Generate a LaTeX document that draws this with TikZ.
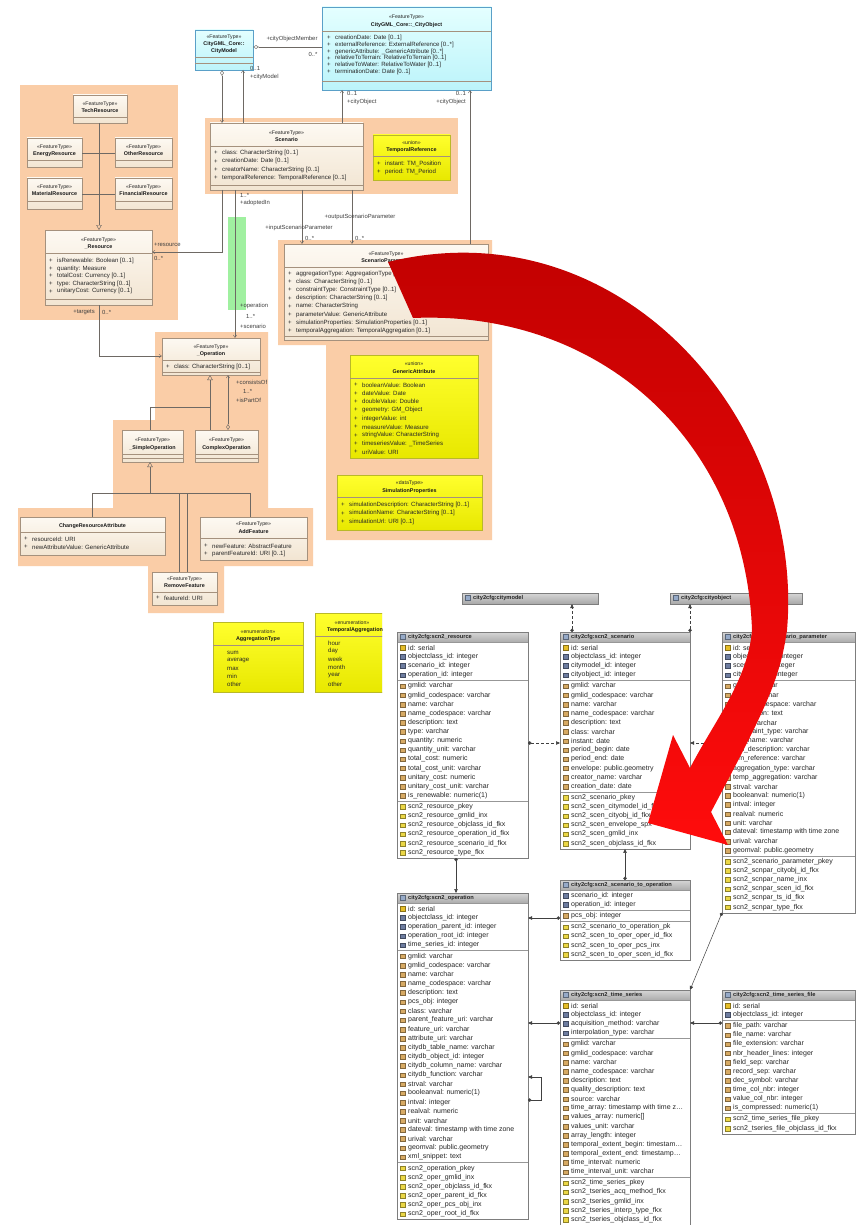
\documentclass[tikz,border=0pt]{standalone}
\usepackage{fontspec}
\setmainfont{Liberation Sans}
\usetikzlibrary{arrows.meta,shadows}

\definecolor{peach}{RGB}{250,205,167}
\definecolor{creamtop}{RGB}{253,249,242}
\definecolor{creambot}{RGB}{242,229,210}
\definecolor{umlborder}{RGB}{165,145,125}
\definecolor{umlline}{RGB}{110,105,100}
\definecolor{cyantop}{RGB}{228,255,255}
\definecolor{cyanbot}{RGB}{188,244,250}
\definecolor{cyanborder}{RGB}{90,160,200}
\definecolor{yeltop}{RGB}{255,255,45}
\definecolor{yelbot}{RGB}{232,232,0}
\definecolor{yelborder}{RGB}{185,185,40}
\definecolor{greenfill}{RGB}{160,240,160}
\definecolor{dbheadtop}{RGB}{214,214,214}
\definecolor{dbheadbot}{RGB}{172,172,172}
\definecolor{dbborder}{RGB}{125,125,125}
\definecolor{tabicon}{RGB}{150,170,200}
\definecolor{pkc}{RGB}{230,190,40}
\definecolor{fkc}{RGB}{110,125,160}
\definecolor{colc}{RGB}{215,170,100}
\definecolor{idxc}{RGB}{235,215,70}
\definecolor{arrowtop}{RGB}{190,0,0}
\definecolor{arrowbot}{RGB}{255,12,12}

\tikzset{
  fkdot/.tip={Circle[length=3.4pt]},
  reftip/.tip={Triangle[length=4pt,width=3.4pt]},
  navtip/.tip={Straight Barb[length=2.6pt,width=3.4pt]},
  aggtip/.tip={Diamond[open,length=6pt,width=3.6pt]},
  gentip/.tip={Triangle[open,length=5pt,width=5.5pt]}}

\newcount\dbcount
\def\gy{0}
\newcommand\rowh{9.13}

% attribute rows of a UML class: name prefix, x, first y, step, list
\newcommand\umlattrs[5]{%
  \foreach \attr [count=\k from 0] in {#5}{%
    \node[umltxt, anchor=west] (#1-p\k) at (#2, #3+\k*#4) {+};
    \node[umltxt, anchor=west] (#1-a\k) at (#2+8, #3+\k*#4) {\attr};
  }}
% literals of an enumeration
\newcommand\umlitems[5]{%
  \foreach \attr [count=\k from 0] in {#5}{%
    \node[umltxt, anchor=west] (#1-i\k) at (#2, #3+\k*#4) {\attr};
  }}
% compartment separator across a class box
\newcommand\usep[2]{\draw[umlsep] (#1.west |- 0,#2) -- (#1.east |- 0,#2);}

% rows of one table section
\newcommand\dbrows[4]{%
  \foreach \rowtxt in {#3}{%
    \global\advance\dbcount by 1
    \node[dbtxt] (#1-r\the\dbcount) at (#2+11, \gy+\rowh/2) {\rowtxt};
    \path[#4] (#2+3.2, \gy+2.3) rectangle ++(4.6,4.6);
    \pgfmathsetmacro\nexty{\gy+\rowh}\global\let\gy\nexty
  }}
% table title bar
\newcommand\dbhead[5]{%
  \path[top color=dbheadtop, bottom color=dbheadbot] (#2,#3) rectangle (#2+#4,#3+10);
  \path[fill=tabicon, draw=tabicon!60!black, line width=0.2pt] (#2+3,#3+2.5) rectangle ++(5,5);
  \node[dbhd] (#1-title) at (#2+11,#3+5.2) {#5};}
% collapsed table
\newcommand\dbstub[5]{\dbhead{#1}{#2}{#3}{#4}{#5}%
  \node[dbframe, minimum width=#4pt, minimum height=11pt] (#1) at (#2,#3) {};}
% full table: name, x, y, width, title, primary keys, foreign keys, columns, indexes
\newcommand\dbtable[9]{%
  \dbhead{#1}{#2}{#3}{#4}{#5}%
  \global\dbcount=0
  \pgfmathsetmacro\nexty{#3+11}\global\let\gy\nexty
  \def\dbtmp{#6}%
  \ifx\dbtmp\empty\else\dbrows{#1}{#2}{#6}{pkicon}\fi
  \dbrows{#1}{#2}{#7}{fkicon}%
  \draw[dbsep] (#2,\gy+1) -- (#2+#4,\gy+1);
  \pgfmathsetmacro\nexty{\gy+2}\global\let\gy\nexty
  \dbrows{#1}{#2}{#8}{colicon}%
  \draw[dbsep] (#2,\gy+1) -- (#2+#4,\gy+1);
  \pgfmathsetmacro\nexty{\gy+2}\global\let\gy\nexty
  \dbrows{#1}{#2}{#9}{idxicon}%
  \draw[dbsep] (#2,#3+10) -- (#2+#4,#3+10);
  \pgfmathsetmacro\tabh{\gy+1-#3}%
  \node[dbframe, minimum width=#4pt, minimum height=\tabh pt] (#1) at (#2,#3) {};}

\begin{document}
\catcode`\_=12
\begin{tikzpicture}[x=1pt,y=-1pt,
  ubox/.style={anchor=north west, inner sep=0pt, outer sep=0pt, line width=0.4pt,
    drop shadow={opacity=0.22, shadow xshift=1.2pt, shadow yshift=-1.2pt}},
  umlbox/.style={ubox, draw=umlborder, top color=creamtop, bottom color=creambot},
  cyanbox/.style={ubox, draw=cyanborder, top color=cyantop, bottom color=cyanbot},
  yelbox/.style={ubox, draw=yelborder, top color=yeltop, bottom color=yelbot},
  umlsep/.style={draw=umlborder, line width=0.3pt},
  umltxt/.style={font=\fontsize{6.1}{6.5}\selectfont, inner sep=0pt, text=black!85},
  umlst/.style={font=\fontsize{5.2}{5.6}\selectfont, inner sep=0pt, text=black!85},
  umlnm/.style={font=\fontsize{5.4}{5.8}\selectfont\bfseries, inner sep=0pt, text=black!90},
  lbl/.style={font=\fontsize{5.9}{6.3}\selectfont, inner sep=0pt, text=black!75},
  conn/.style={draw=umlline, line width=0.45pt},
  dbtxt/.style={font=\fontsize{7}{7.5}\selectfont, inner sep=0pt, anchor=west, text=black!85},
  dbhd/.style={font=\fontsize{5.7}{6}\selectfont\bfseries, inner sep=0pt, anchor=west, text=black!85},
  dbsep/.style={draw=dbborder!80, line width=0.35pt},
  dbframe/.style={draw=dbborder, line width=0.5pt, anchor=north west, inner sep=0pt, outer sep=0pt},
  pkicon/.style={fill=pkc, draw=pkc!60!black, line width=0.2pt},
  fkicon/.style={fill=fkc, draw=fkc!60!black, line width=0.2pt},
  colicon/.style={fill=colc, draw=colc!60!black, line width=0.2pt},
  idxicon/.style={fill=idxc, draw=idxc!60!black, line width=0.2pt},
  dbconn/.style={draw=black!75, line width=0.5pt}]

\useasboundingbox (0,0) rectangle (856,1225);
\fill[white] (0,0) rectangle (856,1225);

% ---------- package backgrounds
\fill[peach] (20,85) rectangle (178,320);
\fill[peach] (205,118) rectangle (458,194);
\fill[peach] (278,240) -- (492,240) -- (492,540) -- (326,540) -- (326,345) -- (278,345) -- cycle;
\fill[peach] (155,332) -- (268,332) -- (268,508) -- (313,508) -- (313,566) -- (224,566)
  -- (224,613) -- (148,613) -- (148,566) -- (18,566) -- (18,508) -- (113,508) -- (113,420)
  -- (155,420) -- cycle;
\fill[greenfill] (228,217) rectangle (246,310);

% ---------- CityGML core classes
\node[cyanbox, minimum width=58pt, minimum height=40pt] (cmodel) at (195,30) {};
\node[umlst] (cmodel-s) at (224,37) {«FeatureType»};
\node[umlnm] (cmodel-n1) at (224,44) {CityGML_Core::};
\node[umlnm] (cmodel-n2) at (224,51) {CityModel};
\usep{cmodel}{57}\usep{cmodel}{63}

\node[cyanbox, minimum width=169pt, minimum height=83pt] (cobj) at (322,7) {};
\node[umlst] (cobj-s) at (406.5,17) {«FeatureType»};
\node[umlnm] (cobj-n) at (406.5,25) {CityGML_Core::_CityObject};
\usep{cobj}{31}
\umlattrs{cobj}{327}{38}{6.8}{creationDate: Date [0..1], externalReference: ExternalReference [0..*], genericAttribute: _GenericAttribute [0..*], relativeToTerrain: RelativeToTerrain [0..1], relativeToWater: RelativeToWater [0..1], terminationDate: Date [0..1]}
\usep{cobj}{81}

% ---------- scenario
\node[umlbox, minimum width=153pt, minimum height=67pt] (scen) at (210,123) {};
\node[umlst] (scen-s) at (286.5,133) {«FeatureType»};
\node[umlnm] (scen-n) at (286.5,140) {Scenario};
\usep{scen}{146}
\umlattrs{scen}{214}{153}{8.3}{class: CharacterString [0..1], creationDate: Date [0..1], creatorName: CharacterString [0..1], temporalReference: TemporalReference [0..1]}
\usep{scen}{185}

\node[yelbox, minimum width=77pt, minimum height=45pt] (tref) at (373,135) {};
\node[umlst] (tref-s) at (411.5,143) {«union»};
\node[umlnm] (tref-n) at (411.5,150) {TemporalReference};
\usep{tref}{156}
\umlattrs{tref}{377}{164}{8}{instant: TM_Position, period: TM_Period}

% ---------- resources
\node[umlbox, minimum width=54pt, minimum height=28pt] (techr) at (73,95) {};
\node[umlst] (techr-s) at (100,104) {«FeatureType»};
\node[umlnm] (techr-n) at (100,111) {TechResource};
\usep{techr}{117}
\node[umlbox, minimum width=55pt, minimum height=29pt] (energy) at (27,138) {};
\node[umlst] (energy-s) at (54.5,147) {«FeatureType»};
\node[umlnm] (energy-n) at (54.5,154) {EnergyResource};
\usep{energy}{160}
\node[umlbox, minimum width=57pt, minimum height=29pt] (other) at (115,138) {};
\node[umlst] (other-s) at (143.5,147) {«FeatureType»};
\node[umlnm] (other-n) at (143.5,154) {OtherResource};
\usep{other}{160}
\node[umlbox, minimum width=55pt, minimum height=31pt] (mater) at (27,178) {};
\node[umlst] (mater-s) at (54.5,187) {«FeatureType»};
\node[umlnm] (mater-n) at (54.5,194) {MaterialResource};
\usep{mater}{201}
\node[umlbox, minimum width=57pt, minimum height=31pt] (finan) at (115,178) {};
\node[umlst] (finan-s) at (143.5,187) {«FeatureType»};
\node[umlnm] (finan-n) at (143.5,194) {FinancialResource};
\usep{finan}{201}

\node[umlbox, minimum width=107pt, minimum height=75pt] (resr) at (45,230) {};
\node[umlst] (resr-s) at (98.5,240) {«FeatureType»};
\node[umlnm] (resr-n) at (98.5,247) {_Resource};
\usep{resr}{253}
\umlattrs{resr}{49}{261}{7.6}{isRenewable: Boolean [0..1], quantity: Measure, totalCost: Currency [0..1], type: CharacterString [0..1], unitaryCost: Currency [0..1]}
\usep{resr}{299}

% ---------- scenario parameters
\node[umlbox, minimum width=204pt, minimum height=96pt] (spar) at (284,244) {};
\node[umlst] (spar-s) at (386,254) {«FeatureType»};
\node[umlnm] (spar-n) at (386,261) {ScenarioParameter};
\usep{spar}{267}
\umlattrs{spar}{288}{274}{8.1}{aggregationType: AggregationType [0..1], class: CharacterString [0..1], constraintType: ConstraintType [0..1], description: CharacterString [0..1], name: CharacterString, parameterValue: GenericAttribute, simulationProperties: SimulationProperties [0..1], temporalAggregation: TemporalAggregation [0..1]}
\usep{spar}{336}

\node[yelbox, minimum width=128pt, minimum height=103pt] (gattr) at (350,355) {};
\node[umlst] (gattr-s) at (414,364) {«union»};
\node[umlnm] (gattr-n) at (414,372) {GenericAttribute};
\usep{gattr}{378}
\umlattrs{gattr}{354}{385}{8.4}{booleanValue: Boolean, dateValue: Date, doubleValue: Double, geometry: GM_Object, integerValue: int, measureValue: Measure, stringValue: CharacterString, timeseriesValue: _TimeSeries, uriValue: URI}

\node[yelbox, minimum width=145pt, minimum height=55pt] (simp) at (337,475) {};
\node[umlst] (simp-s) at (409.5,483) {«dataType»};
\node[umlnm] (simp-n) at (409.5,491) {SimulationProperties};
\usep{simp}{497}
\umlattrs{simp}{341}{505}{8.3}{simulationDescription: CharacterString [0..1], simulationName: CharacterString [0..1], simulationUrl: URI [0..1]}

% ---------- operations
\node[umlbox, minimum width=98pt, minimum height=37pt] (oper) at (162,338) {};
\node[umlst] (oper-s) at (211,347) {«FeatureType»};
\node[umlnm] (oper-n) at (211,354) {_Operation};
\usep{oper}{360}
\umlattrs{oper}{166}{367}{8}{class: CharacterString [0..1]}
\usep{oper}{372}

\node[umlbox, minimum width=61pt, minimum height=32pt] (simop) at (122,430) {};
\node[umlst] (simop-s) at (152.5,440) {«FeatureType»};
\node[umlnm] (simop-n) at (152.5,448) {_SimpleOperation};
\usep{simop}{454}\usep{simop}{458}
\node[umlbox, minimum width=63pt, minimum height=32pt] (cplxop) at (195,430) {};
\node[umlst] (cplxop-s) at (226.5,440) {«FeatureType»};
\node[umlnm] (cplxop-n) at (226.5,448) {ComplexOperation};
\usep{cplxop}{454}\usep{cplxop}{458}

\node[umlbox, minimum width=145pt, minimum height=38pt] (chgres) at (20,517) {};
\node[umlnm] (chgres-n) at (92.5,526) {ChangeResourceAttribute};
\usep{chgres}{532}
\umlattrs{chgres}{24}{539}{8}{resourceId: URI, newAttributeValue: GenericAttribute}

\node[umlbox, minimum width=107pt, minimum height=43pt] (addf) at (200,517) {};
\node[umlst] (addf-s) at (253.5,524) {«FeatureType»};
\node[umlnm] (addf-n) at (253.5,532) {AddFeature};
\usep{addf}{538}
\umlattrs{addf}{204}{546}{8}{newFeature: AbstractFeature, parentFeatureId: URI [0..1]}

\node[umlbox, minimum width=65pt, minimum height=33pt] (remf) at (152,572) {};
\node[umlst] (remf-s) at (184.5,579) {«FeatureType»};
\node[umlnm] (remf-n) at (184.5,586) {RemoveFeature};
\usep{remf}{592}
\umlattrs{remf}{156}{598}{8}{featureId: URI}

% ---------- enumerations
\node[yelbox, minimum width=90pt, minimum height=70pt] (aggt) at (213,622) {};
\node[umlst] (aggt-s) at (258,632) {«enumeration»};
\node[umlnm] (aggt-n) at (258,639) {AggregationType};
\usep{aggt}{645}
\umlitems{aggt}{227}{653}{7.8}{sum, average, max, min, other}

\begin{scope}
\clip (300,600) rectangle (382,700);
\node[yelbox, minimum width=80pt, minimum height=79pt] (tagg) at (315,613) {};
\node[umlst] (tagg-s) at (352,623) {«enumeration»};
\node[umlnm] (tagg-n) at (355,630) {TemporalAggregation};
\usep{tagg}{636}
\umlitems{tagg}{328}{643}{8.2}{hour, day, week, month, year, other}
\end{scope}

% ---------- UML associations and generalisations
\draw[conn, {aggtip}-] (cmodel.east |- 0,47) -- (cobj.west |- 0,47);
\node[lbl] (l-com) at (292,39) {+cityObjectMember};
\node[lbl] (l-com-m) at (313,54) {0..*};

\draw[conn, {aggtip}-{navtip}] (222,0 |- cmodel.south) -- (222,0 |- scen.north);
\draw[conn, {navtip}-] (243,0 |- cmodel.south) -- (243,0 |- scen.north);
\node[lbl, anchor=west] (l-cm-m) at (250,68) {0..1};
\node[lbl, anchor=west] (l-cm) at (250,77) {+cityModel};

\draw[conn, {navtip}-] (342,0 |- cobj.south) -- (342,0 |- scen.north);
\node[lbl, anchor=west] (l-co1-m) at (347,93) {0..1};
\node[lbl, anchor=west] (l-co1) at (347,102) {+cityObject};
\draw[conn, {navtip}-] (470,0 |- cobj.south) -- (470,0 |- spar.north);
\node[lbl, anchor=east] (l-co2-m) at (466,93) {0..1};
\node[lbl, anchor=east] (l-co2) at (466,102) {+cityObject};

\draw[conn, -{navtip}] (302,0 |- scen.south) -- (302,0 |- spar.north);
\node[lbl] (l-in) at (299,228) {+inputScenarioParameter};
\node[lbl, anchor=west] (l-in-m) at (305,238) {0..*};
\draw[conn, -{navtip}] (352,0 |- scen.south) -- (352,0 |- spar.north);
\node[lbl] (l-out) at (360,217) {+outputScenarioParameter};
\node[lbl, anchor=west] (l-out-m) at (355,238) {0..*};

\draw[conn, -{navtip}] (222,0 |- scen.south) |- (resr.east |- 0,252);
\node[lbl, anchor=west] (l-res) at (154,245) {+resource};
\node[lbl, anchor=west] (l-res-m) at (154,258) {0..*};

\draw[conn, -{navtip}] (235,0 |- scen.south) -- (235,0 |- oper.north);
\node[lbl, anchor=west] (l-sc-m) at (240,195) {1..*};
\node[lbl, anchor=west] (l-sc) at (240,203) {+adoptedIn};
\node[lbl, anchor=west] (l-op) at (240,306) {+operation};
\node[lbl, anchor=west] (l-op-m) at (246,316) {1..*};
\node[lbl, anchor=west] (l-op2) at (240,326) {+scenario};

\draw[conn, -{navtip}] (99,0 |- resr.south) |- (oper.west |- 0,356);
\node[lbl, anchor=east] (l-tg) at (95,312) {+targets};
\node[lbl, anchor=west] (l-tg-m) at (102,312) {0..*};

\draw[conn, -{gentip}] (99,0 |- techr.south) -- (99,0 |- resr.north);
\draw[conn] (energy.east |- 0,153) -- (other.west |- 0,153);
\draw[conn] (mater.east |- 0,194) -- (finan.west |- 0,194);

\coordinate (gj1) at (210,407);
\draw[conn, -{gentip}] (gj1) -- (gj1 |- oper.south);
\draw[conn] (150,0 |- simop.north) |- (gj1) -- (gj1 |- cplxop.north);
\draw[conn, {navtip}-{aggtip}] (228,0 |- oper.south) -- (228,0 |- cplxop.north);
\node[lbl, anchor=west] (l-cons) at (236,382) {+consistsOf};
\node[lbl, anchor=west] (l-cons-m) at (243,391) {1..*};
\node[lbl, anchor=west] (l-part) at (236,400) {+isPartOf};

\coordinate (gj2) at (150,493);
\draw[conn, -{gentip}] (gj2) -- (gj2 |- simop.south);
\draw[conn] (92,0 |- chgres.north) |- (250,0 |- gj2) -- (250,0 |- addf.north);
\draw[conn] (179,0 |- gj2) -- (179,0 |- remf.north);
\draw[conn] (187,0 |- gj2) -- (187,0 |- remf.north);

% ---------- database tables
\dbstub{tcm}{462}{593}{136}{city2cfg:citymodel}
\dbstub{tco}{670}{593}{132}{city2cfg:cityobject}

\dbtable{tres}{397}{632}{131}{city2cfg:scn2_resource}{id: serial}{objectclass_id: integer, scenario_id: integer, operation_id: integer}{gmlid: varchar, gmlid_codespace: varchar, name: varchar, name_codespace: varchar, description: text, type: varchar, quantity: numeric, quantity_unit: varchar, total_cost: numeric, total_cost_unit: varchar, unitary_cost: numeric, unitary_cost_unit: varchar, is_renewable: numeric(1)}{scn2_resource_pkey, scn2_resource_gmlid_inx, scn2_resource_objclass_id_fkx, scn2_resource_operation_id_fkx, scn2_resource_scenario_id_fkx, scn2_resource_type_fkx}

\dbtable{tscen}{560}{632}{130}{city2cfg:scn2_scenario}{id: serial}{objectclass_id: integer, citymodel_id: integer, cityobject_id: integer}{gmlid: varchar, gmlid_codespace: varchar, name: varchar, name_codespace: varchar, description: text, class: varchar, instant: date, period_begin: date, period_end: date, envelope: public.geometry, creator_name: varchar, creation_date: date}{scn2_scenario_pkey, scn2_scen_citymodel_id_fkx, scn2_scen_cityobj_id_fkx, scn2_scen_envelope_spx, scn2_scen_gmlid_inx, scn2_scen_objclass_id_fkx}

\dbtable{tpar}{722}{632}{133}{city2cfg:scn2_scenario_parameter}{id: serial}{objectclass_id: integer, scenario_id: integer, cityobject_id: integer}{gmlid: varchar, name: varchar, name_codespace: varchar, description: text, class: varchar, constraint_type: varchar, sim_name: varchar, sim_description: varchar, sim_reference: varchar, aggregation_type: varchar, temp_aggregation: varchar, strval: varchar, booleanval: numeric(1), intval: integer, realval: numeric, unit: varchar, dateval: timestamp with time zone, urival: varchar, geomval: public.geometry}{scn2_scenario_parameter_pkey, scn2_scnpar_cityobj_id_fkx, scn2_scnpar_name_inx, scn2_scnpar_scen_id_fkx, scn2_scnpar_ts_id_fkx, scn2_scnpar_type_fkx}

\dbtable{toper}{397}{893}{131}{city2cfg:scn2_operation}{id: serial}{objectclass_id: integer, operation_parent_id: integer, operation_root_id: integer, time_series_id: integer}{gmlid: varchar, gmlid_codespace: varchar, name: varchar, name_codespace: varchar, description: text, pcs_obj: integer, class: varchar, parent_feature_uri: varchar, feature_uri: varchar, attribute_uri: varchar, citydb_table_name: varchar, citydb_object_id: integer, citydb_column_name: varchar, citydb_function: varchar, strval: varchar, booleanval: numeric(1), intval: integer, realval: numeric, unit: varchar, dateval: timestamp with time zone, urival: varchar, geomval: public.geometry, xml_snippet: text}{scn2_operation_pkey, scn2_oper_gmlid_inx, scn2_oper_objclass_id_fkx, scn2_oper_parent_id_fkx, scn2_oper_pcs_obj_inx, scn2_oper_root_id_fkx}

\dbtable{tsto}{560}{880}{130}{city2cfg:scn2_scenario_to_operation}{}{scenario_id: integer, operation_id: integer}{pcs_obj: integer}{scn2_scenario_to_operation_pk, scn2_scen_to_oper_oper_id_fkx, scn2_scen_to_oper_pcs_inx, scn2_scen_to_oper_scen_id_fkx}

\dbtable{tts}{560}{990}{130}{city2cfg:scn2_time_series}{id: serial}{objectclass_id: integer, acquisition_method: varchar, interpolation_type: varchar}{gmlid: varchar, gmlid_codespace: varchar, name: varchar, name_codespace: varchar, description: text, quality_description: text, source: varchar, time_array: timestamp with time z\ldots, values_array: numeric[], values_unit: varchar, array_length: integer, temporal_extent_begin: timestam\ldots, temporal_extent_end: timestamp\ldots, time_interval: numeric, time_interval_unit: varchar}{scn2_time_series_pkey, scn2_tseries_acq_method_fkx, scn2_tseries_gmlid_inx, scn2_tseries_interp_type_fkx, scn2_tseries_objclass_id_fkx}

\dbtable{ttsf}{722}{990}{133}{city2cfg:scn2_time_series_file}{id: serial}{objectclass_id: integer}{file_path: varchar, file_name: varchar, file_extension: varchar, nbr_header_lines: integer, field_sep: varchar, record_sep: varchar, dec_symbol: varchar, time_col_nbr: integer, value_col_nbr: integer, is_compressed: numeric(1)}{scn2_time_series_file_pkey, scn2_tseries_file_objclass_id_fkx}

% ---------- foreign key links
\draw[dbconn, densely dashed, {fkdot}-{reftip}] (572,0 |- tscen.north) -- (572,0 |- tcm.south);
\draw[dbconn, densely dashed, {fkdot}-{reftip}] (tscen.north east) -- (tscen.north east |- tco.south);
\draw[dbconn, densely dashed, {fkdot}-{reftip}] (tres.east |- 0,743) -- (tscen.west |- 0,743);
\draw[dbconn, densely dashed, {fkdot}-{reftip}] (tpar.west |- 0,743) -- (tscen.east |- 0,743);
\draw[dbconn, {fkdot}-{reftip}] (456,0 |- tres.south) -- (456,0 |- toper.north);
\draw[dbconn, {fkdot}-{reftip}] (625,0 |- tsto.north) -- (625,0 |- tscen.south);
\draw[dbconn, {fkdot}-{reftip}] (tsto.west |- 0,918) -- (toper.east |- 0,918);
\draw[dbconn, {fkdot}-{reftip}] (tts.west |- 0,1023) -- (toper.east |- 0,1023);
\draw[dbconn, {fkdot}-{reftip}] (toper.east |- 0,1100) -- ++(13,0) |- (toper.east |- 0,1077);
\draw[dbconn, {fkdot}-{reftip}] (tpar.south west) -- (tts.north east);
\draw[dbconn, {fkdot}-{reftip}] (ttsf.west |- 0,1023) -- (tts.east |- 0,1023);

% ---------- mapping arrow
\shade[top color=arrowtop, bottom color=arrowbot]
  (388,262) .. controls (620,205) and (805,420) .. (787,630)
  .. controls (780,680) and (765,710) .. (711,812)
  -- (728,845) -- (648,823) -- (673,735) -- (690,768)
  .. controls (715,720) and (748,680) .. (752,630)
  .. controls (745,440) and (600,310) .. (413,318) -- cycle;

\end{tikzpicture}
\end{document}
